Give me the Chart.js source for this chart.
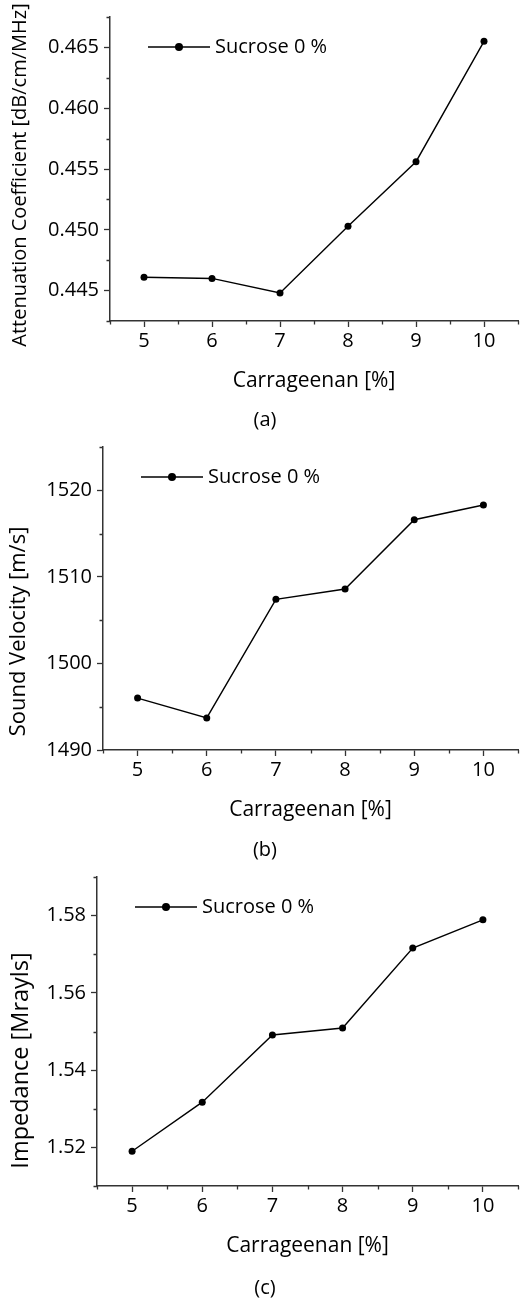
<!DOCTYPE html>
<html>
<head>
<meta charset="utf-8">
<script src="https://cdn.jsdelivr.net/npm/chart.js@4.4.1/dist/chart.umd.min.js"></script>
<style>
  html, body { margin: 0; padding: 0; background: #fff; }
  body { width: 522px; height: 1300px; position: relative; overflow: hidden; font-family: "Open Sans", sans-serif; }
  .panel { position: absolute; left: 0; }
  .caption { position: absolute; left: 0; width: 530px; text-align: center; font-size: 20px; line-height: 24px; color: #000; }
</style>
</head>
<body>
<div class="panel" style="top:0"><canvas id="chartA" width="522" height="430"></canvas></div>
<div class="panel" style="top:430px"><canvas id="chartB" width="522" height="430"></canvas></div>
<div class="panel" style="top:860px"><canvas id="chartC" width="522" height="440"></canvas></div>
<div class="caption" style="top:407px">(a)</div>
<div class="caption" style="top:837px">(b)</div>
<div class="caption" style="top:1275px">(c)</div>
<script>
// donnees
const carrageenan = [5, 6, 7, 8, 9, 10];
const xTicks = [5, 6, 7, 8, 9, 10];
const seriesLabel = 'Sucrose 0 %';
const xTitle = 'Carrageenan [%]';

const attenuation = [0.4461, 0.4460, 0.4448, 0.4503, 0.4556, 0.4655];
const attenuationTicks = [0.445, 0.450, 0.455, 0.460, 0.465];

const soundVelocity = [1496.0, 1493.7, 1507.4, 1508.6, 1516.6, 1518.3];
const velocityTicks = [1490, 1500, 1510, 1520];

const impedance = [1.519, 1.5317, 1.5491, 1.5509, 1.5716, 1.5789];
const impedanceTicks = [1.52, 1.54, 1.56, 1.58];

const yTitles = ['Attenuation Coefficient [dB/cm/MHz]', 'Sound Velocity [m/s]', 'Impedance [Mrayls]'];

const FONT = '"Open Sans", sans-serif';
const AXIS = '#333';
const TEXT = '#000';

function isMajor(v, list) {
    return list.some(t => Math.abs(t - v) < 1e-7);
}

// ticks mineurs courts, legende et titres des axes
const decorPlugin = {
    id: 'decor',
    afterDraw(chart, args, opts) {
        const ctx = chart.ctx;
        const area = chart.chartArea;
        const xs = chart.scales.x;
        const ys = chart.scales.y;
        ctx.save();
        ctx.strokeStyle = AXIS;
        ctx.lineWidth = 1.3;
        ctx.beginPath();
        xs.ticks.forEach(t => {
            if (!isMajor(t.value, opts.xMajor)) {
                const p = Math.round(xs.getPixelForValue(t.value)) + 0.5;
                ctx.moveTo(p, area.bottom);
                ctx.lineTo(p, area.bottom + 3.5);
            }
        });
        ys.ticks.forEach(t => {
            if (!isMajor(t.value, opts.yMajor)) {
                const p = Math.round(ys.getPixelForValue(t.value)) + 0.5;
                ctx.moveTo(area.left, p);
                ctx.lineTo(area.left - 3.5, p);
            }
        });
        ctx.stroke();

        // legende
        const ds = chart.data.datasets[0];
        const ly = area.top + opts.legendY;
        ctx.strokeStyle = ds.borderColor;
        ctx.lineWidth = 1.4;
        ctx.beginPath();
        ctx.moveTo(area.left + 38, ly);
        ctx.lineTo(area.left + 100, ly);
        ctx.stroke();
        ctx.fillStyle = ds.borderColor;
        ctx.beginPath();
        ctx.arc(area.left + 69, ly, 4, 0, Math.PI * 2);
        ctx.fill();
        ctx.fillStyle = TEXT;
        ctx.font = `20px ${FONT}`;
        ctx.textBaseline = 'middle';
        ctx.textAlign = 'left';
        ctx.fillText(ds.label, area.left + 105, ly);

        // titres
        ctx.font = `${opts.titleSize}px ${FONT}`;
        ctx.textAlign = 'center';
        ctx.fillText(opts.xTitle, (area.left + area.right) / 2, area.bottom + opts.xTitleOffset);
        ctx.translate(opts.yTitleX, (area.top + area.bottom) / 2 + opts.yTitleShift);
        ctx.rotate(-Math.PI / 2);
        ctx.font = `${opts.yTitleSize}px ${FONT}`;
        ctx.fillText(opts.yTitle, 0, 0);
        ctx.restore();
    }
};

function makeChart(id, values, cfg) {
    const canvas = document.getElementById(id);
    const H = canvas.height;
    const xAxisH = 40;
    return new Chart(canvas, {
        type: 'line',
        data: {
            datasets: [{
                label: seriesLabel,
                data: carrageenan.map((c, i) => ({ x: c, y: values[i] })),
                borderColor: '#000',
                backgroundColor: '#000',
                borderWidth: 1.4,
                pointRadius: 3.5,
                pointBorderWidth: 0,
                pointBackgroundColor: '#000',
                tension: 0
            }]
        },
        options: {
            responsive: false,
            animation: false,
            devicePixelRatio: 1,
            layout: {
                padding: { top: cfg.top, left: 0, right: 522 - cfg.right, bottom: H - cfg.bottom - xAxisH }
            },
            plugins: {
                legend: { display: false },
                tooltip: { enabled: false },
                decor: {
                    xMajor: xTicks,
                    yMajor: cfg.yMajor,
                    legendY: 30,
                    xTitle: xTitle,
                    xTitleOffset: 60,
                    titleSize: 21,
                    yTitle: cfg.yTitle,
                    yTitleX: cfg.yTitleX,
                    yTitleShift: cfg.yTitleShift,
                    yTitleSize: cfg.yTitleSize
                }
            },
            scales: {
                x: {
                    type: 'linear',
                    min: 4.5,
                    max: 10.5,
                    afterFit: s => { s.height = xAxisH; },
                    border: { color: AXIS, width: 1.5 },
                    grid: {
                        drawOnChartArea: false,
                        tickLength: 6,
                        tickWidth: 1.3,
                        tickColor: c => isMajor(c.tick.value, xTicks) ? AXIS : 'rgba(0,0,0,0)'
                    },
                    ticks: {
                        stepSize: 0.5,
                        autoSkip: false,
                        maxRotation: 0,
                        padding: 2,
                        color: TEXT,
                        font: { family: FONT, size: 20 },
                        callback: v => isMajor(v, xTicks) ? String(v) : ''
                    }
                },
                y: {
                    min: cfg.min,
                    max: cfg.max,
                    afterFit: s => { s.width = cfg.left; },
                    border: { color: AXIS, width: 1.5 },
                    grid: {
                        drawOnChartArea: false,
                        tickLength: 6,
                        tickWidth: 1.3,
                        tickColor: c => isMajor(c.tick.value, cfg.yMajor) ? AXIS : 'rgba(0,0,0,0)'
                    },
                    ticks: {
                        stepSize: cfg.step,
                        autoSkip: false,
                        padding: 5,
                        color: TEXT,
                        font: { family: FONT, size: 20 },
                        callback: v => isMajor(v, cfg.yMajor) ? v.toFixed(cfg.digits) : ''
                    }
                }
            }
        },
        plugins: [decorPlugin]
    });
}

makeChart('chartA', attenuation, {
    top: 17, bottom: 321, left: 110, right: 521,
    min: 0.4425, max: 0.4675, step: 0.0025, digits: 3, yMajor: attenuationTicks,
    yTitle: yTitles[0], yTitleX: 20, yTitleShift: 6, yTitleSize: 20
});
makeChart('chartB', soundVelocity, {
    top: 12, bottom: 320, left: 103, right: 522,
    min: 1490, max: 1525, step: 5, digits: 0, yMajor: velocityTicks,
    yTitle: yTitles[1], yTitleX: 19, yTitleShift: 33, yTitleSize: 22
});
makeChart('chartC', impedance, {
    top: 14, bottom: 326, left: 97, right: 521,
    min: 1.51, max: 1.59, step: 0.01, digits: 2, yMajor: impedanceTicks,
    yTitle: yTitles[2], yTitleX: 21, yTitleShift: 29, yTitleSize: 23.5
});
</script>
</body>
</html>
